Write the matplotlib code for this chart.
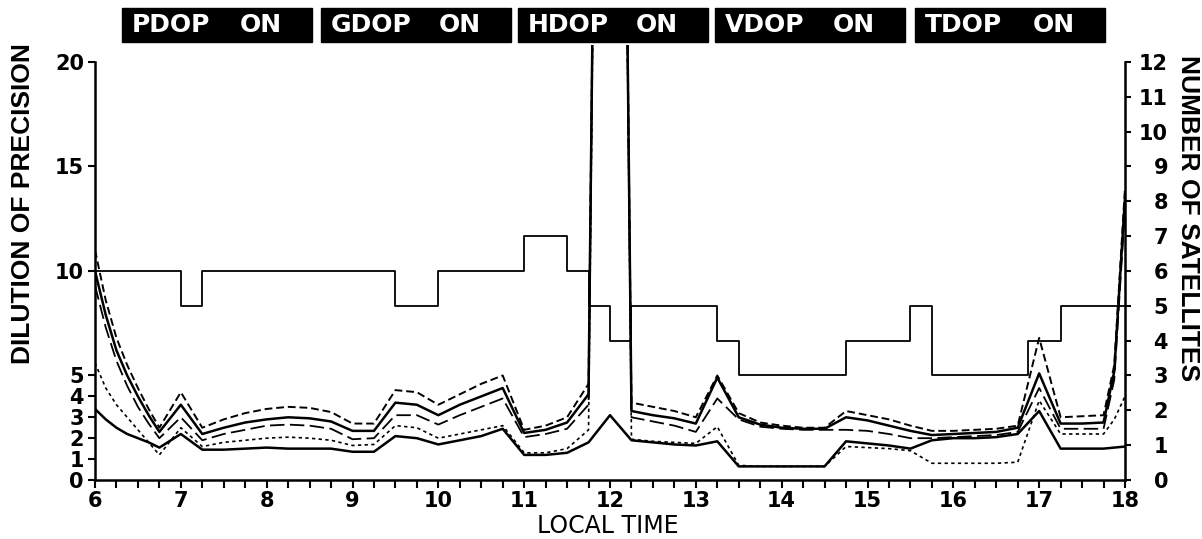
import matplotlib
matplotlib.use('Agg')
import matplotlib.pyplot as plt
from matplotlib.patches import Rectangle
from matplotlib.ticker import MultipleLocator

# local time of day (hours)
hours = [6.0, 6.125, 6.25, 6.375, 6.5, 6.625, 6.75,
         7.0, 7.25, 7.5, 7.75, 8.0, 8.25, 8.5, 8.75, 9.0, 9.25, 9.5, 9.75,
         10.0, 10.25, 10.5, 10.75, 11.0, 11.25, 11.5, 11.75, 12.0, 12.25, 12.5, 12.75,
         13.0, 13.25, 13.5, 13.75, 14.0, 14.25, 14.5, 14.75, 15.0, 15.25, 15.5, 15.75,
         16.0, 16.25, 16.5, 16.75, 17.0, 17.25, 17.5, 17.75,
         17.875, 18.0]

OFF = 99.9   # off scale (only 4 satellites)

gdop = [11.0, 8.6, 6.8, 5.5, 4.4, 3.4, 2.5,
        4.2, 2.5, 2.9, 3.2, 3.4, 3.5, 3.45, 3.25, 2.7, 2.7, 4.3, 4.2,
        3.6, 4.1, 4.6, 5.0, 2.4, 2.6, 3.0, 4.6, OFF, 3.7, 3.5, 3.3,
        3.0, 5.0, 3.2, 2.75, 2.6, 2.5, 2.5, 3.3, 3.1, 2.9, 2.6, 2.35,
        2.35, 2.4, 2.45, 2.6, 6.8, 3.0, 3.05, 3.1,
        5.5, 14.0]
pdop = [10.0, 7.9, 6.2, 5.0, 4.0, 3.1, 2.3,
        3.6, 2.2, 2.5, 2.75, 2.9, 3.0, 2.95, 2.8, 2.35, 2.35, 3.7, 3.6,
        3.1, 3.6, 4.0, 4.4, 2.25, 2.4, 2.75, 4.1, OFF, 3.3, 3.1, 2.95,
        2.7, 4.9, 3.0, 2.65, 2.5, 2.45, 2.45, 3.0, 2.85, 2.6, 2.35, 2.15,
        2.2, 2.25, 2.3, 2.5, 5.1, 2.7, 2.7, 2.75,
        5.2, 13.5]
vdop = [9.3, 7.3, 5.7, 4.5, 3.5, 2.7, 2.0,
        3.0, 1.9, 2.2, 2.4, 2.6, 2.65, 2.6, 2.45, 1.95, 2.0, 3.1, 3.1,
        2.65, 3.1, 3.5, 3.9, 2.05, 2.2, 2.45, 3.6, OFF, 3.0, 2.8, 2.6,
        2.3, 3.9, 2.9, 2.55, 2.45, 2.4, 2.4, 2.4, 2.35, 2.2, 2.0, 2.0,
        2.05, 2.1, 2.15, 2.3, 4.4, 2.45, 2.45, 2.45,
        4.8, 13.0]
tdop = [5.6, 4.4, 3.6, 3.0, 2.4, 1.8, 1.2,
        2.5, 1.6, 1.8, 1.9, 2.0, 2.05, 2.0, 1.9, 1.65, 1.7, 2.6, 2.5,
        2.0, 2.2, 2.4, 2.6, 1.3, 1.3, 1.5, 2.4, OFF, 1.95, 1.85, 1.8,
        1.75, 2.55, 0.7, 0.65, 0.65, 0.65, 0.65, 1.6, 1.55, 1.5, 1.4, 0.8,
        0.8, 0.8, 0.8, 0.85, 3.8, 2.2, 2.2, 2.2,
        2.9, 4.0]
hdop = [3.4, 2.9, 2.5, 2.2, 2.0, 1.8, 1.55,
        2.2, 1.45, 1.45, 1.5, 1.55, 1.5, 1.5, 1.5, 1.35, 1.35, 2.1, 2.0,
        1.7, 1.9, 2.1, 2.45, 1.2, 1.2, 1.3, 1.8, 3.1, 1.9, 1.8, 1.7,
        1.65, 1.85, 0.65, 0.65, 0.65, 0.65, 0.65, 1.85, 1.75, 1.65, 1.5, 1.9,
        2.0, 2.0, 2.05, 2.2, 3.3, 1.5, 1.5, 1.5,
        1.55, 1.6]

# number of satellites in view (step changes)
sat_times = [6.0, 7.0, 7.25, 9.5, 10.0, 11.0, 11.5, 11.75, 12.0, 12.25,
             13.25, 13.5, 14.75, 15.5, 15.75, 16.875, 17.25, 18.0]
sat_count = [6, 5, 6, 5, 6, 7, 6, 5, 4, 5, 4, 3, 4, 5, 3, 4, 5, 5]

dop_ticks = [0, 1, 2, 3, 4, 5, 10, 15, 20]
buttons = ['PDOP', 'GDOP', 'HDOP', 'VDOP', 'TDOP']
button_x = [122, 321, 518, 715, 915]   # left edge, px

W, H = 1202, 539
ytop = 20.8

fig = plt.figure(figsize=(W / 100, H / 100), dpi=100)
ax = fig.add_axes([95 / W, 0.1095, 1030 / W, 0.8065])
ax2 = ax.twinx()

tickfont = {'family': 'DejaVu Sans', 'weight': 'bold', 'size': 15}

ax.plot(hours, gdop, color='k', lw=1.4, ls=(0, (4, 2)))
ax.plot(hours, pdop, color='k', lw=1.8, ls='-')
ax.plot(hours, vdop, color='k', lw=1.3, ls=(0, (8, 3)))
ax.plot(hours, tdop, color='k', lw=1.2, ls=(0, (2, 2)))
ax.plot(hours, hdop, color='k', lw=1.8, ls='-')

ax2.plot(sat_times, sat_count, color='k', lw=1.3, drawstyle='steps-post')

ax.set_xlim(6, 18)
ax.set_ylim(0, ytop)
ax2.set_ylim(0, 12 * ytop / 20)

for a in (ax, ax2):
    a.spines['top'].set_visible(False)
ax.spines['right'].set_visible(False)
ax2.spines['left'].set_visible(False)
ax2.spines['bottom'].set_visible(False)
ax.spines['left'].set_bounds(0, 20)
ax2.spines['right'].set_bounds(0, 12)
for s in ('left', 'bottom'):
    ax.spines[s].set_linewidth(1.8)
ax2.spines['right'].set_linewidth(1.8)

ax.set_xticks(range(6, 19))
ax.set_xticklabels([str(h) for h in range(6, 19)], fontdict=tickfont)
ax.xaxis.set_minor_locator(MultipleLocator(0.25))
ax.tick_params(axis='x', which='both', direction='out', length=6, width=1.5, pad=2)

ax.set_yticks(dop_ticks)
ax.set_yticklabels([str(v) for v in dop_ticks], fontdict=tickfont)
ax.tick_params(axis='y', direction='out', length=5, width=1.5, pad=3)

ax2.set_yticks(range(0, 13))
ax2.set_yticklabels([str(v) for v in range(0, 13)], fontdict=tickfont)
ax2.tick_params(axis='y', direction='out', length=4, width=1.5, pad=27)
for lbl in ax2.get_yticklabels():
    lbl.set_horizontalalignment('right')

fig.text(23 / W, 1 - 204 / H, 'DILUTION OF PRECISION', rotation=90,
         ha='center', va='center', family='Liberation Sans', weight='bold', size=19)
fig.text(1188 / W, 1 - 218 / H, 'NUMBER OF SATELLITES', rotation=-90,
         ha='center', va='center', family='Liberation Sans', weight='bold', size=19)
fig.text(608 / W, 1 - 533 / H, 'LOCAL TIME', ha='center', va='baseline',
         family='DejaVu Sans', size=17)

# toggle buttons across the top
for name, x0 in zip(buttons, button_x):
    fig.add_artist(Rectangle((x0 / W, 1 - 42 / H), 190 / W, 34 / H,
                             transform=fig.transFigure, facecolor='black',
                             edgecolor='black'))
    fig.text((x0 + 10) / W, 1 - 25 / H, name, color='white', ha='left', va='center',
             family='DejaVu Sans', weight='bold', size=18)
    fig.text((x0 + 118) / W, 1 - 25 / H, 'ON', color='white', ha='left', va='center',
             family='DejaVu Sans', weight='bold', size=18)

fig.savefig('out.png', dpi=100)
